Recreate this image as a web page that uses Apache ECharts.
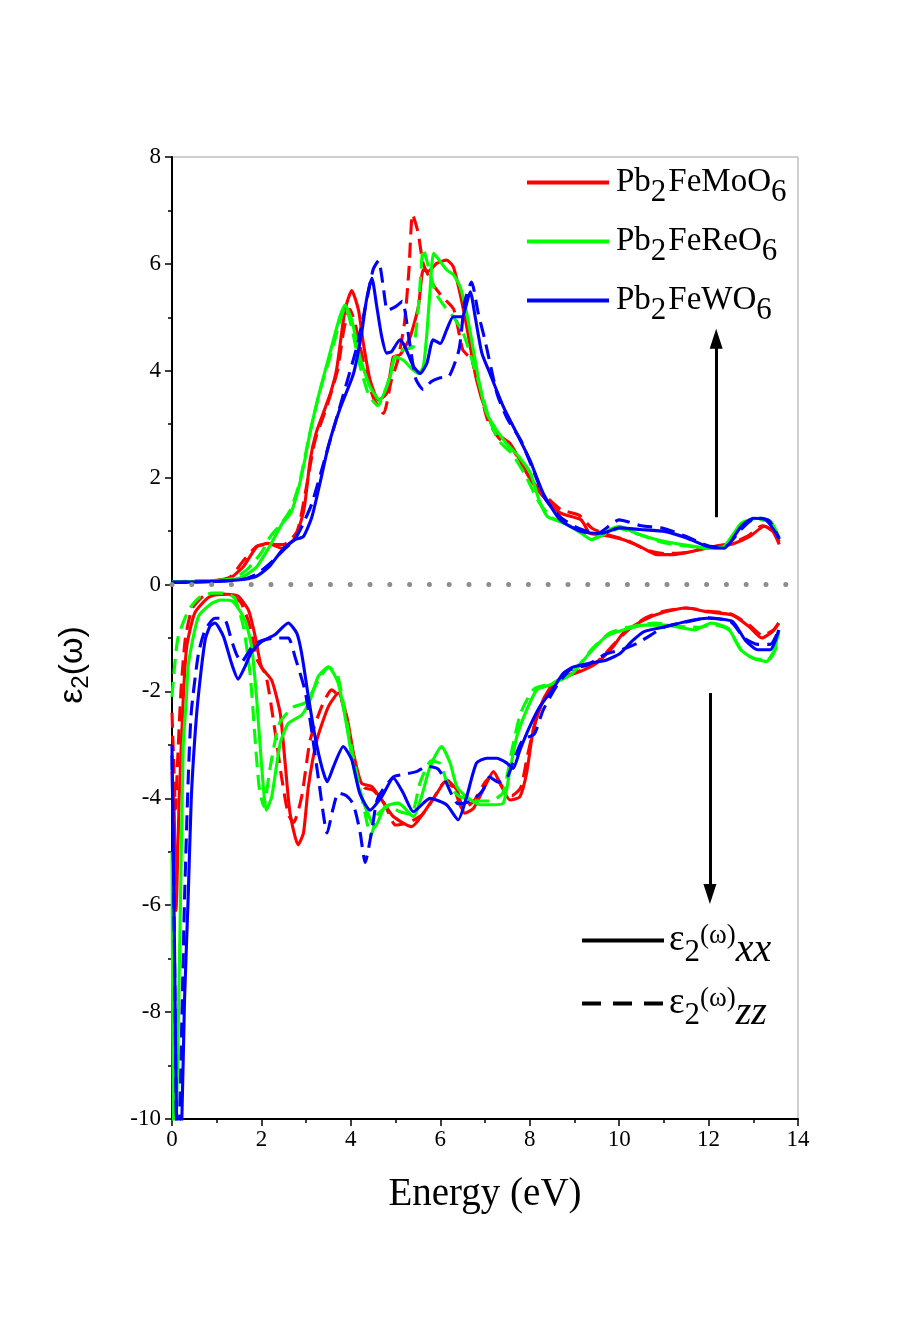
<!DOCTYPE html>
<html>
<head>
<meta charset="utf-8">
<script src="https://cdn.jsdelivr.net/npm/echarts@6/dist/echarts.min.js"></script>
<style>
html,body{margin:0;padding:0;background:#fff;}
#chart{width:914px;height:1334px;}
</style>
</head>
<body>
<div id="chart"></div>
<script>
// ---------- tick labels / categories ----------
const xTicks = [0, 2, 4, 6, 8, 10, 12, 14];
const yTicks = [-10, -8, -6, -4, -2, 0, 2, 4, 6, 8];
const compounds = ['Pb2FeMoO6', 'Pb2FeReO6', 'Pb2FeWO6'];
const components = ['xx', 'zz'];

// ---------- upper part (positive) ----------
const moXXup = [[0,0.05],[0.5,0.06],[1.0,0.08],[1.3,0.12],[1.6,0.34],[1.9,0.71],[2.15,0.77],[2.45,0.68],[2.75,0.87],[2.95,1.4],[3.09,2.33],[3.22,2.83],[3.38,3.2],[3.55,3.6],[3.68,4.02],[3.87,5.14],[4.02,5.5],[4.17,5.14],[4.28,4.51],[4.43,3.83],[4.62,3.45],[4.8,3.58],[4.95,4.26],[5.1,4.3],[5.32,4.62],[5.51,5.2],[5.62,5.89],[5.73,5.86],[5.92,6.01],[6.14,6.07],[6.29,5.95],[6.44,5.45],[6.59,4.83],[6.81,3.83],[7.04,3.2],[7.26,2.83],[7.56,2.64],[7.74,2.39],[8.02,1.96],[8.3,1.65],[8.68,1.34],[9.15,1.21],[9.34,0.96],[9.62,0.93],[10.1,0.84],[10.47,0.71],[10.85,0.56],[11.2,0.56],[11.79,0.65],[12.17,0.72],[12.54,0.76],[12.92,0.9],[13.25,1.09],[13.44,0.99],[13.58,0.75]];
const moZZup = [[0,0.05],[1.0,0.08],[1.3,0.14],[1.6,0.45],[1.9,0.72],[2.2,0.75],[2.5,0.75],[2.8,1.0],[3.0,1.8],[3.2,2.7],[3.45,3.3],[3.7,4.0],[3.85,4.8],[3.98,5.15],[4.12,4.8],[4.3,4.1],[4.5,3.5],[4.73,3.2],[4.9,3.8],[5.05,4.2],[5.2,4.9],[5.3,5.9],[5.38,6.93],[5.5,6.6],[5.62,6.0],[5.85,5.6],[6.05,5.38],[6.3,5.15],[6.5,4.4],[6.7,4.2],[6.9,3.6],[7.05,3.1],[7.3,2.75],[7.6,2.55],[8.0,2.0],[8.3,1.7],[8.7,1.4],[9.1,1.3],[9.4,1.05],[9.8,0.92],[10.2,0.82],[10.6,0.65],[11.0,0.58],[11.5,0.6],[12.0,0.7],[12.5,0.77],[12.9,0.92],[13.2,1.1],[13.45,1.0],[13.58,0.8]];
const reXXup = [[0,0.05],[1.0,0.07],[1.4,0.1],[1.62,0.16],[1.9,0.34],[2.18,0.71],[2.47,1.15],[2.66,1.34],[2.84,1.83],[2.97,2.33],[3.1,2.9],[3.31,3.64],[3.57,4.45],[3.75,5.0],[3.87,5.23],[4.02,4.95],[4.2,4.26],[4.43,3.7],[4.65,3.45],[4.88,3.89],[4.99,4.26],[5.17,4.2],[5.35,4.05],[5.51,3.95],[5.62,4.08],[5.7,4.7],[5.77,5.5],[5.85,6.2],[5.95,6.1],[6.14,5.89],[6.29,5.8],[6.44,5.58],[6.59,5.08],[6.74,4.39],[6.89,3.7],[7.04,3.2],[7.26,2.89],[7.48,2.64],[7.75,2.4],[8.02,2.08],[8.21,1.58],[8.4,1.27],[8.78,1.15],[9.15,0.96],[9.39,0.84],[9.62,0.96],[10.0,1.09],[10.38,0.96],[10.85,0.84],[11.41,0.75],[11.98,0.68],[12.35,0.71],[12.73,1.15],[13.1,1.24],[13.39,1.18],[13.58,0.87]];
const reZZup = [[0,0.05],[1.0,0.08],[1.4,0.12],[1.7,0.3],[2.0,0.6],[2.2,0.9],[2.45,1.15],[2.65,1.4],[2.85,1.9],[3.05,2.7],[3.3,3.6],[3.55,4.3],[3.75,4.9],[3.88,5.2],[4.02,4.8],[4.2,4.1],[4.4,3.55],[4.6,3.35],[4.8,3.7],[5.0,4.3],[5.2,4.4],[5.4,4.45],[5.52,5.3],[5.62,6.28],[5.75,5.9],[5.9,5.45],[6.1,5.2],[6.3,5.0],[6.52,4.69],[6.8,3.95],[7.08,3.14],[7.3,2.7],[7.6,2.45],[7.9,2.05],[8.2,1.55],[8.5,1.25],[8.9,1.1],[9.2,0.95],[9.4,0.85],[9.7,0.95],[10.0,1.05],[10.4,0.95],[11.0,0.78],[11.5,0.72],[12.0,0.68],[12.35,0.72],[12.7,1.1],[13.1,1.22],[13.4,1.15],[13.58,0.85]];
const wXXup = [[0,0.04],[1.0,0.06],[1.6,0.1],[1.9,0.16],[2.18,0.34],[2.47,0.65],[2.75,0.84],[2.94,0.9],[3.13,1.27],[3.31,1.9],[3.5,2.6],[3.76,3.3],[4.06,3.95],[4.24,4.7],[4.35,5.33],[4.47,5.73],[4.58,5.2],[4.69,4.64],[4.8,4.33],[4.91,4.36],[5.1,4.58],[5.21,4.45],[5.4,4.08],[5.55,3.95],[5.7,4.14],[5.84,4.58],[6.0,4.51],[6.14,4.76],[6.29,5.01],[6.48,5.01],[6.67,5.48],[6.78,5.01],[6.93,4.33],[7.11,3.95],[7.41,3.33],[7.71,2.83],[7.93,2.46],[8.02,2.3],[8.3,1.71],[8.68,1.21],[9.15,0.99],[9.62,0.96],[10.0,1.06],[10.47,1.03],[11.04,0.99],[11.51,0.87],[11.98,0.71],[12.35,0.68],[12.73,1.09],[13.0,1.24],[13.28,1.21],[13.58,0.87]];
const wZZup = [[0,0.04],[1.0,0.06],[1.6,0.1],[1.9,0.2],[2.2,0.4],[2.5,0.65],[2.75,0.85],[2.94,1.15],[3.13,1.52],[3.41,2.33],[3.69,3.14],[3.95,3.9],[4.15,4.5],[4.35,5.3],[4.5,5.9],[4.62,6.06],[4.72,5.6],[4.82,5.13],[5.0,5.2],[5.15,5.3],[5.3,4.6],[5.45,3.85],[5.62,3.65],[5.8,3.8],[6.0,3.87],[6.2,3.9],[6.42,4.4],[6.55,5.3],[6.7,5.66],[6.85,5.07],[7.0,4.57],[7.27,3.57],[7.5,3.1],[7.8,2.7],[8.05,2.2],[8.35,1.6],[8.7,1.25],[9.1,1.05],[9.5,0.95],[10.0,1.21],[10.5,1.1],[11.0,1.05],[11.5,0.9],[12.0,0.72],[12.35,0.7],[12.75,1.05],[13.05,1.25],[13.35,1.2],[13.58,0.85]];

// ---------- lower part (negative) ----------
const moXXdn = [[0,-3.5],[0.05,-4.3],[0.09,-6.1],[0.16,-4.03],[0.25,-2.16],[0.33,-1.16],[0.51,-0.53],[0.8,-0.25],[1.0,-0.19],[1.25,-0.18],[1.48,-0.22],[1.71,-0.48],[1.86,-0.97],[2.0,-1.54],[2.23,-1.79],[2.42,-2.41],[2.53,-3.34],[2.64,-4.28],[2.82,-4.87],[2.94,-4.65],[3.05,-3.78],[3.24,-2.91],[3.5,-2.28],[3.72,-2.03],[3.91,-2.47],[4.06,-3.16],[4.24,-3.72],[4.47,-3.78],[4.69,-4.03],[4.95,-4.34],[5.36,-4.53],[5.62,-4.28],[5.92,-3.91],[6.14,-3.66],[6.37,-3.84],[6.55,-4.28],[6.74,-4.19],[6.96,-3.84],[7.19,-3.5],[7.37,-3.78],[7.56,-4.03],[7.78,-3.97],[7.93,-3.53],[8.08,-2.72],[8.3,-2.16],[8.53,-1.85],[8.83,-1.72],[9.2,-1.6],[9.5,-1.47],[9.87,-1.16],[10.09,-0.91],[10.56,-0.66],[11.03,-0.51],[11.5,-0.44],[11.97,-0.51],[12.53,-0.57],[12.91,-0.79],[13.19,-1.0],[13.43,-0.88],[13.57,-0.72]];
const moZZdn = [[0,-2.4],[0.04,-3.4],[0.08,-4.2],[0.12,-3.4],[0.2,-2.0],[0.3,-1.0],[0.45,-0.45],[0.7,-0.22],[1.0,-0.17],[1.3,-0.2],[1.55,-0.35],[1.75,-0.8],[1.9,-1.4],[2.1,-1.7],[2.3,-2.72],[2.45,-3.6],[2.6,-4.3],[2.72,-4.45],[2.9,-3.97],[3.09,-2.91],[3.35,-2.28],[3.57,-1.97],[3.79,-2.16],[3.95,-2.8],[4.1,-3.5],[4.3,-3.8],[4.5,-3.85],[4.75,-4.1],[5.0,-4.5],[5.3,-4.45],[5.6,-4.3],[5.85,-4.0],[6.1,-3.7],[6.3,-3.8],[6.5,-4.2],[6.75,-4.05],[7.0,-3.7],[7.2,-3.55],[7.4,-3.8],[7.6,-3.95],[7.8,-3.8],[7.95,-3.2],[8.15,-2.5],[8.4,-2.0],[8.7,-1.75],[9.1,-1.62],[9.5,-1.45],[9.9,-1.1],[10.2,-0.85],[10.6,-0.62],[11.0,-0.5],[11.5,-0.44],[12.0,-0.5],[12.5,-0.55],[12.9,-0.75],[13.2,-0.95],[13.45,-0.85],[13.57,-0.72]];
const reXXdn = [[0,-5.0],[0.02,-8.5],[0.05,-11],[0.1,-10],[0.19,-5.9],[0.25,-3.03],[0.32,-2.16],[0.37,-1.47],[0.59,-0.6],[0.89,-0.35],[1.1,-0.29],[1.35,-0.31],[1.63,-0.66],[1.78,-1.16],[1.89,-2.1],[2.0,-3.34],[2.11,-4.22],[2.23,-3.97],[2.42,-2.97],[2.6,-2.6],[2.9,-2.44],[3.09,-2.16],[3.27,-1.72],[3.5,-1.54],[3.72,-1.85],[3.91,-2.66],[4.09,-3.53],[4.32,-4.16],[4.54,-4.53],[4.76,-4.16],[5.06,-4.09],[5.4,-4.34],[5.58,-3.97],[5.77,-3.41],[6.03,-3.03],[6.22,-3.34],[6.37,-3.78],[6.59,-3.97],[6.89,-4.12],[7.19,-4.12],[7.41,-4.09],[7.56,-3.47],[7.71,-2.85],[7.93,-2.35],[8.16,-1.97],[8.45,-1.88],[8.68,-1.79],[8.96,-1.66],[9.33,-1.29],[9.71,-0.97],[10.09,-0.85],[10.56,-0.76],[11.03,-0.76],[11.69,-0.85],[12.06,-0.72],[12.44,-0.82],[12.72,-1.22],[13.0,-1.38],[13.29,-1.44],[13.47,-1.22],[13.57,-0.85]];
const reZZdn = [[0,-2.1],[0.06,-1.5],[0.14,-0.97],[0.37,-0.48],[0.6,-0.25],[0.89,-0.16],[1.18,-0.16],[1.4,-0.25],[1.6,-0.8],[1.75,-1.7],[1.85,-2.8],[1.95,-3.8],[2.05,-4.15],[2.2,-3.4],[2.4,-2.6],[2.7,-2.3],[3.0,-2.2],[3.3,-1.75],[3.5,-1.55],[3.7,-1.7],[3.85,-2.3],[4.05,-3.2],[4.25,-4.0],[4.45,-4.7],[4.6,-4.3],[4.85,-4.15],[5.1,-4.25],[5.35,-4.3],[5.55,-3.7],[5.8,-3.3],[6.0,-3.35],[6.15,-3.7],[6.4,-3.95],[6.8,-4.05],[7.1,-4.05],[7.4,-3.9],[7.6,-3.1],[7.8,-2.4],[8.1,-1.95],[8.5,-1.85],[9.0,-1.6],[9.4,-1.2],[9.8,-0.9],[10.2,-0.8],[10.8,-0.72],[11.3,-0.78],[11.8,-0.8],[12.1,-0.75],[12.45,-0.85],[12.75,-1.25],[13.1,-1.4],[13.35,-1.4],[13.5,-1.2],[13.57,-0.85]];
const wXXdn = [[0,-3.0],[0.02,-4.5],[0.06,-7.0],[0.1,-10],[0.15,-11],[0.22,-10],[0.28,-7.77],[0.36,-5.9],[0.43,-4.03],[0.5,-3.0],[0.58,-2.16],[0.74,-1.04],[0.85,-0.78],[0.96,-0.72],[1.15,-0.97],[1.33,-1.47],[1.48,-1.77],[1.63,-1.54],[1.78,-1.26],[2.0,-1.07],[2.3,-0.94],[2.6,-0.72],[2.79,-0.91],[2.9,-1.29],[3.05,-2.1],[3.2,-2.85],[3.35,-3.41],[3.47,-3.69],[3.61,-3.41],[3.83,-3.03],[4.02,-3.28],[4.2,-3.91],[4.43,-4.22],[4.69,-3.97],[4.95,-3.62],[5.17,-3.9],[5.4,-4.25],[5.77,-4.0],[6.14,-4.12],[6.4,-4.4],[6.59,-3.97],[6.81,-3.34],[7.04,-3.25],[7.26,-3.25],[7.49,-3.34],[7.63,-3.44],[7.78,-3.1],[8.0,-2.66],[8.23,-2.28],[8.53,-1.94],[8.75,-1.66],[8.98,-1.54],[9.35,-1.47],[9.72,-1.41],[10.02,-1.29],[10.3,-1.05],[10.56,-0.88],[11.03,-0.79],[11.5,-0.69],[11.97,-0.63],[12.53,-0.69],[12.82,-1.04],[13.1,-1.22],[13.38,-1.22],[13.57,-0.85]];
const wZZdn = [[0,-3.2],[0.03,-5.0],[0.07,-8.0],[0.12,-11],[0.17,-10],[0.28,-5.9],[0.36,-3.7],[0.43,-2.4],[0.59,-1.3],[0.74,-0.85],[0.96,-0.63],[1.18,-0.65],[1.33,-1.04],[1.44,-1.3],[1.55,-1.45],[1.8,-1.15],[2.0,-1.05],[2.3,-1.0],[2.6,-1.0],[2.75,-1.35],[2.97,-1.97],[3.1,-2.6],[3.3,-3.78],[3.47,-4.65],[3.6,-4.2],[3.72,-3.9],[3.9,-3.95],[4.05,-4.1],[4.2,-4.6],[4.32,-5.2],[4.47,-4.6],[4.6,-4.0],[4.95,-3.6],[5.2,-3.55],[5.47,-3.5],[5.7,-3.4],[5.95,-3.45],[6.1,-3.65],[6.4,-4.1],[6.7,-4.05],[6.95,-3.85],[7.1,-3.6],[7.3,-3.7],[7.5,-3.6],[7.65,-3.27],[7.85,-2.9],[8.1,-2.8],[8.3,-2.35],[8.6,-1.9],[8.9,-1.6],[9.3,-1.5],[9.7,-1.3],[10.05,-1.22],[10.4,-1.1],[10.7,-0.95],[11.0,-0.8],[11.5,-0.7],[12.0,-0.62],[12.5,-0.7],[12.8,-1.0],[13.1,-1.12],[13.38,-1.12],[13.57,-0.85]];

// ---------- annotation arrows (data coordinates) ----------
const arrowUp = [[12.17, 1.26], [12.17, 4.6]];
const arrowDown = [[12.03, -2.03], [12.03, -5.79]];

// ---------- build the chart ----------
const SERIF = "'Liberation Serif', 'Times New Roman', serif";
const SANS = "'Liberation Sans', Arial, sans-serif";
const colors = { 'Pb2FeMoO6': '#ff0000', 'Pb2FeReO6': '#00ff00', 'Pb2FeWO6': '#0000ff' };
const DASH = [15, 8];

function curve(name, data, dashed) {
  return {
    name: name, type: 'line', data: data, smooth: 0.2,
    symbol: 'none', showSymbol: false, silent: true,
    lineStyle: { color: colors[name], width: 3.1, type: dashed ? DASH : 'solid' },
    itemStyle: { color: colors[name] }
  };
}

const series = [
  curve(compounds[0], moXXup, false), curve(compounds[0], moXXdn, false),
  curve(compounds[0], moZZup, true),  curve(compounds[0], moZZdn, true),
  curve(compounds[1], reXXup, false), curve(compounds[1], reXXdn, false),
  curve(compounds[1], reZZup, true),  curve(compounds[1], reZZdn, true),
  curve(compounds[2], wXXup, false),  curve(compounds[2], wXXdn, false),
  curve(compounds[2], wZZup, true),   curve(compounds[2], wZZdn, true),
  { name: components[0], type: 'line', data: [], symbol: 'none',
    lineStyle: { color: '#000', width: 4, type: 'solid' }, itemStyle: { color: '#000' },
    markLine: {
      silent: true, symbol: ['none', 'triangle'], symbolSize: [13, 20],
      label: { show: false },
      lineStyle: { color: '#000', width: 3, type: 'solid' },
      data: [
        [{ coord: arrowUp[0] }, { coord: arrowUp[1] }],
        [{ coord: arrowDown[0] }, { coord: arrowDown[1] }]
      ]
    }
  },
  { name: components[1], type: 'line', data: [], symbol: 'none',
    lineStyle: { color: '#000', width: 4, type: [19, 12] }, itemStyle: { color: '#000' },
    markLine: {
      silent: true, symbol: ['none', 'none'], label: { show: false },
      lineStyle: { color: '#8c8c8c', width: 5, type: [0, 19.8], cap: 'round' },
      data: [{ yAxis: 0 }]
    }
  }
];

function chemRich(name) {
  return name.split(/(\d)/).filter(Boolean)
    .map(p => /\d/.test(p) ? '{s|' + p + '}' : '{n|' + p + '}').join('');
}

const option = {
  animation: false,
  backgroundColor: '#ffffff',
  grid: { left: 172, right: 116, top: 157, bottom: 215, show: true,
          borderColor: '#a0a0a0', borderWidth: 1, outerBoundsMode: 'none' },
  legend: [
    {
      data: compounds, orient: 'vertical', left: 525, top: 157, padding: 0,
      itemWidth: 82, itemHeight: 14, itemGap: 8, selectedMode: false,
      itemStyle: { opacity: 0 }, lineStyle: { width: 4 },
      formatter: chemRich,
      textStyle: {
        color: '#000',
        rich: {
          n: { fontFamily: SERIF, fontSize: 33, lineHeight: 33, color: '#000', padding: [0, 0, 0, 2] },
          s: { fontFamily: SERIF, fontSize: 31, lineHeight: 30, color: '#000', padding: [20, 0, 0, 0] }
        }
      }
    },
    {
      data: components, orient: 'vertical', left: 580, top: 911, padding: 0,
      itemWidth: 82, itemHeight: 14, itemGap: 4, selectedMode: false,
      itemStyle: { opacity: 0 }, lineStyle: { width: 4 },
      formatter: function (name) { return '{e|ε}{s|2}{w|(ω)}{i|' + name + '}'; },
      textStyle: {
        color: '#000',
        rich: {
          e: { fontFamily: SERIF, fontSize: 37, lineHeight: 36, color: '#000' },
          s: { fontFamily: SERIF, fontSize: 31, lineHeight: 30, color: '#000', padding: [24, 0, 0, 0] },
          w: { fontFamily: SERIF, fontSize: 27, lineHeight: 26, color: '#000', padding: [0, 0, 9, 0] },
          i: { fontFamily: SERIF, fontSize: 40, lineHeight: 38, fontStyle: 'italic', color: '#000', padding: [19, 0, 0, 0] }
        }
      }
    }
  ],
  xAxis: {
    type: 'value', min: xTicks[0], max: xTicks[xTicks.length - 1], interval: 2,
    name: 'Energy (eV)', nameLocation: 'middle', nameGap: 56,
    nameTextStyle: { fontFamily: SERIF, fontSize: 39, color: '#000' },
    axisLine: { onZero: false, lineStyle: { color: '#000', width: 2 } },
    axisTick: { length: 7, lineStyle: { color: '#000', width: 1.5 } },
    minorTick: { show: true, splitNumber: 2, length: 4, lineStyle: { color: '#000', width: 1.5 } },
    splitLine: { show: false },
    axisLabel: { fontFamily: SERIF, fontSize: 23, color: '#000', margin: 9 }
  },
  yAxis: {
    type: 'value', min: yTicks[0], max: yTicks[yTicks.length - 1], interval: 2,
    name: '{e|ε}{s|2}{e|(ω)}', nameLocation: 'middle', nameRotate: 90, nameGap: 82,
    nameTextStyle: {
      color: '#000', padding: [0, 54, 0, 0],
      rich: {
        e: { fontFamily: SANS, fontSize: 34, lineHeight: 34, color: '#000' },
        s: { fontFamily: SANS, fontSize: 24, lineHeight: 24, color: '#000', padding: [16, 0, 0, 0] }
      }
    },
    axisLine: { onZero: false, lineStyle: { color: '#000', width: 2 } },
    axisTick: { length: 7, lineStyle: { color: '#000', width: 1.5 } },
    minorTick: { show: true, splitNumber: 2, length: 4, lineStyle: { color: '#000', width: 1.5 } },
    splitLine: { show: false },
    axisLabel: { fontFamily: SERIF, fontSize: 23, color: '#000', margin: 11 }
  },
  series: series
};

const chart = echarts.init(document.getElementById('chart'), null, { renderer: 'canvas' });
chart.setOption(option);
</script>
</body>
</html>
